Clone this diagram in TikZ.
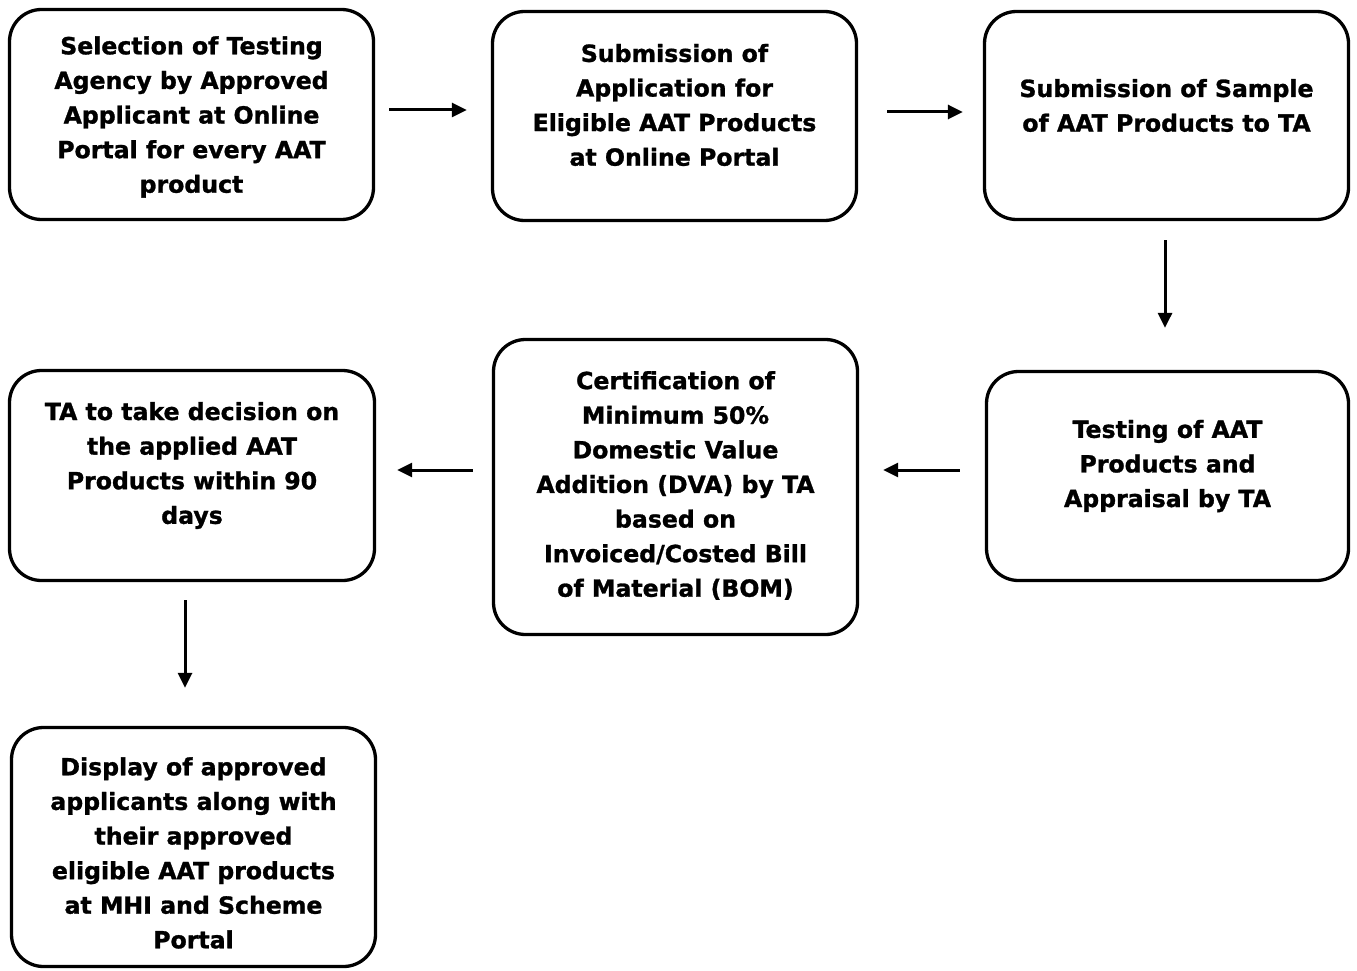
\documentclass[tikz,border=0pt]{standalone}
\usepackage{fontspec}
\setmainfont{DejaVu Sans}[BoldFeatures={FakeBold=1.2}]
\usetikzlibrary{arrows.meta,calc}
\tikzset{
  box/.style={draw=black, line width=3.3pt, rounded corners=32pt, minimum width=364pt, inner sep=0pt},
  txt/.style={align=center, font=\bfseries\fontsize{23.6}{34.6}\selectfont, inner sep=0pt},
  arr/.style={line width=3pt, -{Triangle[length=15pt,width=14pt]}},
}
\begin{document}
\begin{tikzpicture}[x=1pt,y=-1pt]
\useasboundingbox (0,0) rectangle (1357,971);
% boxes
\node[box, minimum height=210pt] (b1) at (191.5,114.5) {};
\node[box, minimum height=209pt] (b2) at (674.5,116) {};
\node[box, minimum height=208pt] (b3) at (1166.5,115.5) {};
\node[box, minimum width=362pt, minimum height=209pt] (b4) at (1167.5,476) {};
\node[box, minimum height=295pt] (b5) at (675.5,487) {};
\node[box, minimum width=365pt, minimum height=210pt] (b6) at (192,475.5) {};
\node[box, minimum height=239pt] (b7) at (193.5,847) {};
% texts
\node[txt] (t1) at (191.5,117) {Selection of Testing\\Agency by Approved\\Applicant at Online\\Portal for every AAT\\product};
\node[txt] (t2) at (674.5,105) {Submission of\\Application for\\Eligible AAT Products\\at Online Portal};
\node[txt] (t3) at (1166.5,105.5) {Submission of Sample\\of AAT Products to TA};
\node[txt] (t4) at (1167.5,466) {Testing of AAT\\Products and\\Appraisal by TA};
\node[txt] (t5) at (675.5,485.5) {Certification of\\Minimum 50\%\\Domestic Value\\Addition (DVA) by TA\\based on\\Invoiced/Costed Bill\\of Material (BOM)};
\node[txt] (t6) at (192,465.5) {TA to take decision on\\the applied AAT\\Products within 90\\days};
\node[txt] (t7) at (193.5,853) {Display of approved\\applicants along with\\their approved\\eligible AAT products\\at MHI and Scheme\\Portal};
% arrows
\draw[arr, shorten <=14pt, shorten >=24pt] ([yshift=4.5pt]b1.east) -- ([yshift=4.5pt]b1.east -| b2.west);
\draw[arr, shorten <=29pt, shorten >=20pt] ([yshift=4pt]b2.east) -- ([yshift=4pt]b2.east -| b3.west);
\draw[arr, shorten <=19pt, shorten >=42pt] ([xshift=-1.5pt]b3.south) -- ([xshift=-1.5pt]b3.south |- b4.north);
\draw[arr, shorten <=25pt, shorten >=24pt] ([yshift=6pt]b4.west) -- ([yshift=6pt]b4.west -| b5.east);
\draw[arr, shorten <=19pt, shorten >=21pt] ([yshift=17pt]b5.west) -- ([yshift=17pt]b5.west -| b6.east);
\draw[arr, shorten <=18pt, shorten >=38pt] ([xshift=-7pt]b6.south) -- ([xshift=-7pt]b6.south |- b7.north);
\end{tikzpicture}
\end{document}
